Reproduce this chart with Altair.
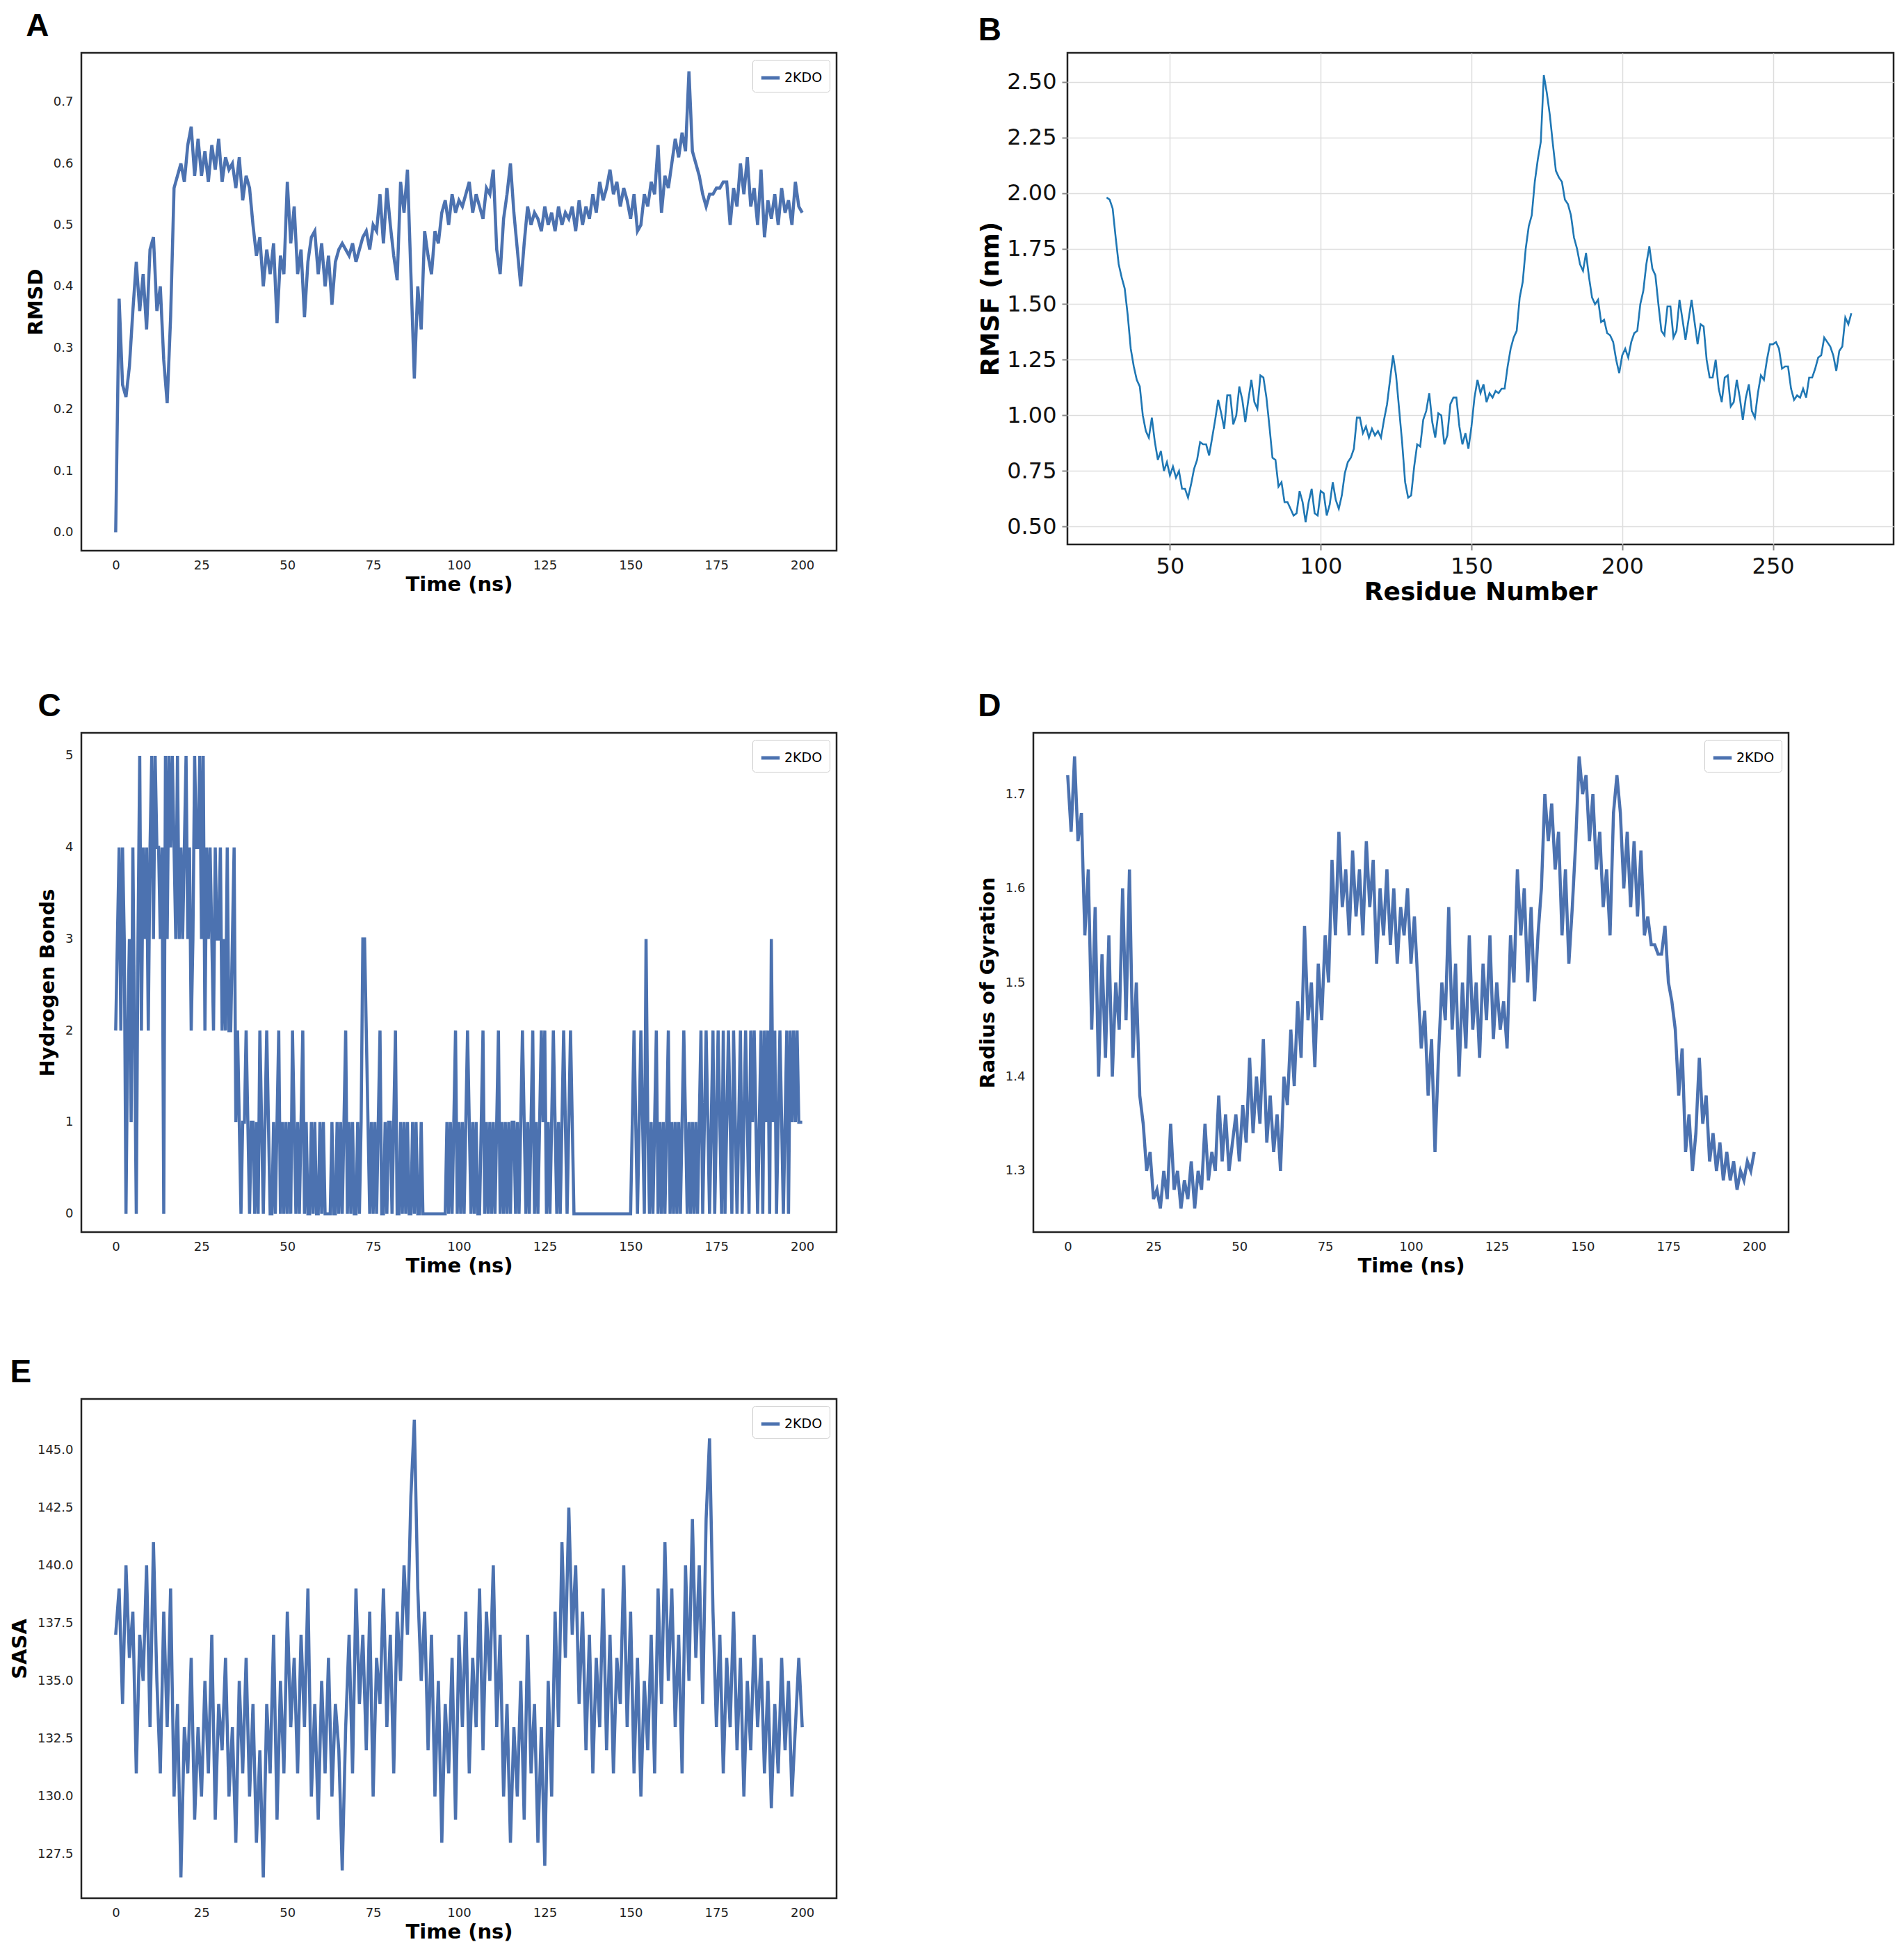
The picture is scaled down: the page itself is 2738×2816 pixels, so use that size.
import altair as alt
import pandas as pd

BLUE = "#4c72b0"

rmsd = [0.00, 0.38, 0.24, 0.22, 0.27, 0.36, 0.44, 0.36, 0.42, 0.33, 0.46, 0.48, 0.36, 0.40, 0.28, 0.21, 0.35, 0.56, 0.58, 0.60,
        0.57, 0.63, 0.66, 0.58, 0.64, 0.58, 0.62, 0.57, 0.63, 0.59, 0.64, 0.57, 0.61, 0.59, 0.60, 0.56, 0.61, 0.54, 0.58, 0.56,
        0.50, 0.45, 0.48, 0.40, 0.46, 0.42, 0.47, 0.34, 0.45, 0.42, 0.57, 0.47, 0.53, 0.42, 0.46, 0.35, 0.44, 0.48, 0.49, 0.42,
        0.47, 0.40, 0.45, 0.37, 0.44, 0.46, 0.47, 0.46, 0.45, 0.47, 0.44, 0.46, 0.48, 0.49, 0.46, 0.50, 0.49, 0.55, 0.47, 0.56,
        0.50, 0.45, 0.41, 0.57, 0.52, 0.59, 0.42, 0.25, 0.40, 0.33, 0.49, 0.45, 0.42, 0.49, 0.47, 0.52, 0.54, 0.50, 0.55, 0.52,
        0.54, 0.53, 0.55, 0.57, 0.52, 0.55, 0.53, 0.51, 0.56, 0.55, 0.59, 0.46, 0.42, 0.51, 0.55, 0.60, 0.52, 0.46, 0.40, 0.47,
        0.53, 0.50, 0.52, 0.51, 0.49, 0.53, 0.50, 0.52, 0.49, 0.53, 0.50, 0.52, 0.51, 0.53, 0.49, 0.54, 0.50, 0.53, 0.51, 0.55,
        0.52, 0.57, 0.54, 0.56, 0.59, 0.55, 0.57, 0.53, 0.56, 0.54, 0.51, 0.55, 0.49, 0.50, 0.55, 0.53, 0.57, 0.55, 0.63, 0.52,
        0.58, 0.56, 0.60, 0.64, 0.61, 0.65, 0.62, 0.75, 0.62, 0.60, 0.58, 0.55, 0.53, 0.55, 0.55, 0.56, 0.56, 0.57, 0.57, 0.50,
        0.56, 0.53, 0.60, 0.55, 0.61, 0.53, 0.56, 0.50, 0.59, 0.48, 0.54, 0.51, 0.55, 0.50, 0.56, 0.52, 0.54, 0.50, 0.57, 0.53,
        0.52]

rmsf_start = 29
rmsf = [1.98, 1.97, 1.93, 1.80, 1.68, 1.62, 1.57, 1.45, 1.30, 1.22, 1.16, 1.13, 1.00, 0.93, 0.90, 0.99, 0.88, 0.80, 0.84, 0.75,
        0.79, 0.73, 0.77, 0.72, 0.75, 0.67, 0.67, 0.63, 0.69, 0.76, 0.80, 0.88, 0.87, 0.87, 0.82, 0.90, 0.98, 1.07, 1.01, 0.94,
        1.09, 1.09, 0.96, 1.00, 1.13, 1.07, 0.97, 1.07, 1.16, 1.06, 1.03, 1.18, 1.17, 1.08, 0.95, 0.81, 0.80, 0.68, 0.70, 0.61,
        0.61, 0.58, 0.55, 0.56, 0.66, 0.61, 0.52, 0.61, 0.67, 0.56, 0.55, 0.66, 0.65, 0.55, 0.60, 0.70, 0.62, 0.58, 0.64, 0.74,
        0.79, 0.81, 0.85, 0.99, 0.99, 0.92, 0.95, 0.90, 0.94, 0.91, 0.93, 0.90, 0.98, 1.05, 1.16, 1.27, 1.18, 1.03, 0.88, 0.70,
        0.63, 0.64, 0.77, 0.87, 0.86, 0.98, 1.02, 1.10, 0.97, 0.90, 1.01, 1.00, 0.87, 0.91, 1.05, 1.08, 1.08, 0.95, 0.87, 0.92,
        0.85, 0.95, 1.08, 1.16, 1.10, 1.14, 1.06, 1.10, 1.08, 1.11, 1.10, 1.12, 1.12, 1.22, 1.30, 1.35, 1.38, 1.53, 1.60, 1.75,
        1.85, 1.90, 2.05, 2.15, 2.23, 2.53, 2.45, 2.35, 2.22, 2.10, 2.07, 2.05, 1.97, 1.95, 1.90, 1.80, 1.75, 1.68, 1.65, 1.73,
        1.62, 1.53, 1.50, 1.52, 1.42, 1.43, 1.37, 1.36, 1.33, 1.25, 1.19, 1.27, 1.30, 1.26, 1.33, 1.37, 1.38, 1.50, 1.56, 1.68,
        1.76, 1.66, 1.63, 1.50, 1.38, 1.36, 1.49, 1.49, 1.35, 1.38, 1.52, 1.43, 1.34, 1.43, 1.52, 1.42, 1.32, 1.41, 1.40, 1.25,
        1.17, 1.17, 1.25, 1.12, 1.06, 1.17, 1.18, 1.04, 1.06, 1.16, 1.08, 0.98, 1.08, 1.14, 1.02, 0.99, 1.10, 1.18, 1.16, 1.25,
        1.32, 1.32, 1.33, 1.30, 1.21, 1.22, 1.22, 1.12, 1.07, 1.09, 1.08, 1.12, 1.08, 1.17, 1.17, 1.21, 1.26, 1.27, 1.35, 1.33,
        1.31, 1.27, 1.20, 1.29, 1.31, 1.44, 1.41, 1.46]

# hydrogen bonds, one digit per 0.5 ns
hbonds = [int(c) for c in (
    "23424302314203524342" "45354434053545435343" "45342354453524343243" "34232422341210112101"
    "10102101210010120101" "01021010120100101001" "01000010010101201010" "01013321010101200101"
    "10120010101001010010" "00000000000001010120" "10101210101001201010" "10120101010110101210"
    "10120101212010121010" "12101210000000000000" "00000000000000000000" "01210121031010120101"
    "01201010101210101010" "12012101201210201210" "21012012102121012021" "20312012101202121211" "1")]

rg = [1.72, 1.66, 1.74, 1.65, 1.68, 1.55, 1.62, 1.45, 1.58, 1.40, 1.53, 1.42, 1.55, 1.40, 1.50, 1.45, 1.60, 1.46, 1.62, 1.42,
      1.50, 1.38, 1.35, 1.30, 1.32, 1.27, 1.28, 1.26, 1.30, 1.27, 1.35, 1.28, 1.30, 1.26, 1.29, 1.27, 1.31, 1.26, 1.30, 1.28,
      1.35, 1.29, 1.32, 1.30, 1.38, 1.31, 1.36, 1.30, 1.33, 1.36, 1.31, 1.37, 1.33, 1.42, 1.34, 1.40, 1.35, 1.44, 1.33, 1.38,
      1.32, 1.36, 1.30, 1.40, 1.37, 1.45, 1.39, 1.48, 1.42, 1.56, 1.46, 1.50, 1.41, 1.52, 1.46, 1.55, 1.50, 1.63, 1.55, 1.66,
      1.58, 1.62, 1.55, 1.64, 1.57, 1.62, 1.55, 1.65, 1.58, 1.63, 1.52, 1.60, 1.55, 1.62, 1.54, 1.60, 1.52, 1.58, 1.55, 1.60,
      1.52, 1.57, 1.50, 1.43, 1.47, 1.38, 1.44, 1.32, 1.42, 1.50, 1.46, 1.58, 1.45, 1.52, 1.40, 1.50, 1.43, 1.55, 1.45, 1.50,
      1.42, 1.52, 1.46, 1.55, 1.44, 1.50, 1.45, 1.48, 1.43, 1.55, 1.50, 1.62, 1.55, 1.60, 1.50, 1.58, 1.48, 1.55, 1.60, 1.70,
      1.65, 1.69, 1.62, 1.66, 1.55, 1.62, 1.52, 1.58, 1.65, 1.74, 1.70, 1.72, 1.65, 1.70, 1.62, 1.66, 1.58, 1.62, 1.55, 1.68,
      1.72, 1.68, 1.60, 1.66, 1.58, 1.65, 1.57, 1.64, 1.55, 1.57, 1.54, 1.54, 1.53, 1.53, 1.56, 1.50, 1.48, 1.45, 1.38, 1.43,
      1.32, 1.36, 1.30, 1.34, 1.42, 1.35, 1.38, 1.31, 1.34, 1.30, 1.33, 1.29, 1.32, 1.29, 1.31, 1.28, 1.30, 1.29, 1.31, 1.30,
      1.32]

sasa = [137, 139, 134, 140, 136, 138, 131, 137, 135, 140, 133, 141, 135, 131, 138, 133, 139, 130, 134, 126.5,
        133, 131, 136, 129, 133, 130, 135, 131, 137, 129, 134, 132, 136, 130, 133, 128, 135, 131, 136, 130,
        134, 128, 132, 126.5, 134, 131, 137, 129, 135, 131, 138, 133, 136, 131, 137, 133, 139, 130, 134, 129,
        135, 131, 136, 130, 134, 132, 126.8, 133, 137, 131, 139, 134, 137, 132, 138, 130, 136, 134, 139, 133,
        137, 131, 138, 135, 140, 137, 143, 146.3, 139, 135, 138, 132, 137, 130, 135, 128, 134, 131, 136, 129,
        137, 133, 138, 131, 136, 133, 139, 132, 138, 135, 140, 133, 137, 130, 134, 128, 133, 130, 135, 129,
        137, 131, 134, 128, 133, 127, 135, 130, 138, 133, 141, 136, 142.5, 137, 140, 134, 138, 132, 137, 131,
        136, 133, 139, 132, 137, 131, 136, 134, 140, 133, 138, 131, 136, 130, 135, 132, 137, 131, 139, 134,
        141, 135, 139, 133, 137, 131, 140, 135, 142, 136, 140, 134, 142, 145.5, 138, 133, 137, 131, 136, 133,
        138, 132, 136, 130, 135, 132, 137, 133, 136, 131, 135, 129.5, 134, 131, 136, 132, 135, 130, 133, 136,
        133]

FONT = "DejaVu Sans"


def time_panel(letter, values, step, ytitle, ydomain, yticks, yfmt, height):
    df = pd.DataFrame({"t": [i * step for i in range(len(values))], "v": values, "s": "2KDO"})
    return alt.Chart(df, title=alt.TitleParams(letter, anchor="start", frame="bounds", fontSize=46,
                                               fontWeight="bold", font="Liberation Sans", offset=14)).mark_line(
        strokeWidth=4.5).encode(
        x=alt.X("t:Q", title="Time (ns)", scale=alt.Scale(domain=[-10, 210], nice=False),
                axis=alt.Axis(values=list(range(0, 201, 25)), grid=False, ticks=False, labelPadding=12,
                              labelFontSize=18, labelFont=FONT, titleFontSize=29, titleFont=FONT,
                              titleFontWeight="bold", titlePadding=4, domain=False, labelColor="#222")),
        y=alt.Y("v:Q", title=ytitle, scale=alt.Scale(domain=ydomain, nice=False, zero=False),
                axis=alt.Axis(values=yticks, format=yfmt, grid=False, ticks=False, labelPadding=12,
                              labelFontSize=18, labelFont=FONT, titleFontSize=29, titleFont=FONT,
                              titleFontWeight="bold", titlePadding=10, domain=False, labelColor="#222")),
        color=alt.Color("s:N", scale=alt.Scale(range=[BLUE]),
                        legend=alt.Legend(title=None, orient="top-right", symbolType="stroke",
                                          symbolStrokeWidth=5, symbolSize=700, labelFontSize=19, labelFont=FONT,
                                          strokeColor="#ccc", padding=10, cornerRadius=4, offset=10,
                                          fillColor="white")),
    ).properties(width=1086, height=height)


a = time_panel("A", rmsd, 1, "RMSD", [-0.03, 0.78], [0, 0.1, 0.2, 0.3, 0.4, 0.5, 0.6, 0.7], ".1f", 716)
c = time_panel("C", hbonds, 0.5, "Hydrogen Bonds", [-0.2, 5.25], [0, 1, 2, 3, 4, 5], "d", 718)
d = time_panel("D", rg, 1, "Radius of Gyration", [1.235, 1.765], [1.3, 1.4, 1.5, 1.6, 1.7], ".1f", 718)
e = time_panel("E", sasa, 1, "SASA", [125.6, 147.2], [127.5, 130, 132.5, 135, 137.5, 140, 142.5, 145], ".1f", 718)

dfb = pd.DataFrame({"r": [rmsf_start + i for i in range(len(rmsf))], "v": rmsf})
b = alt.Chart(dfb, title=alt.TitleParams("B", anchor="start", frame="bounds", fontSize=46, fontWeight="bold",
                                         font="Liberation Sans", offset=8)).mark_line(
    strokeWidth=2.6, color="#1f77b4").encode(
    x=alt.X("r:Q", title="Residue Number", scale=alt.Scale(domain=[16, 290], nice=False),
            axis=alt.Axis(values=[50, 100, 150, 200, 250], gridColor="#ddd", gridWidth=1.5, tickSize=8,
                          tickWidth=2, labelFontSize=32, labelFont=FONT, titleFontSize=36, titleFont=FONT,
                          titleFontWeight="bold", labelColor="#111", domain=False, labelPadding=8)),
    y=alt.Y("v:Q", title="RMSF (nm)", scale=alt.Scale(domain=[0.42, 2.63], nice=False, zero=False),
            axis=alt.Axis(values=[0.5, 0.75, 1.0, 1.25, 1.5, 1.75, 2.0, 2.25, 2.5], format=".2f",
                          gridColor="#ddd", gridWidth=1.5, tickSize=8, tickWidth=2, labelFontSize=32,
                          labelFont=FONT, titleFontSize=36, titleFont=FONT, titleFontWeight="bold",
                          labelColor="#111", domain=False, labelPadding=8)),
).properties(width=1188, height=707)

row1 = alt.hconcat(a, b, spacing=200).resolve_scale(color="independent").resolve_legend(color="independent")
row2 = alt.hconcat(c, d, spacing=200).resolve_scale(color="independent").resolve_legend(color="independent")
top = alt.vconcat(row1, row2, spacing=120).resolve_scale(color="independent").resolve_legend(color="independent")
chart = alt.vconcat(top, e, spacing=112).resolve_scale(color="independent").resolve_legend(
    color="independent").configure_view(stroke="#222", strokeWidth=2.5)

chart.save("out.html", embed_options={"renderer": "svg", "actions": False})
